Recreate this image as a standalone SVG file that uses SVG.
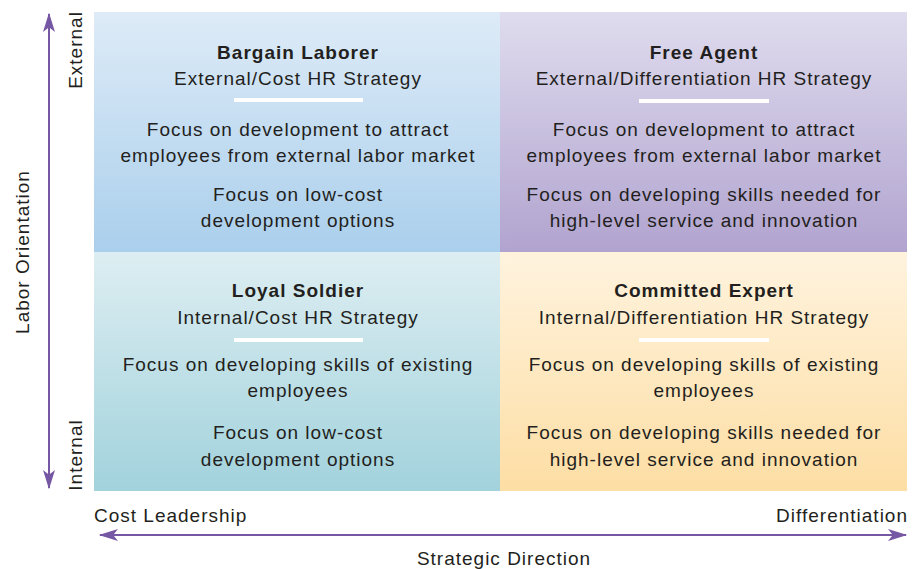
<svg xmlns="http://www.w3.org/2000/svg" width="918" height="569" viewBox="0 0 918 569">
<defs>
<linearGradient id="gTL" x1="0" y1="0" x2="0" y2="1"><stop offset="0" stop-color="#deebf7"/><stop offset="1" stop-color="#aacfec"/></linearGradient>
<linearGradient id="gTR" x1="0" y1="0" x2="0" y2="1"><stop offset="0" stop-color="#dfdcee"/><stop offset="1" stop-color="#b1a3cf"/></linearGradient>
<linearGradient id="gBL" x1="0" y1="0" x2="0" y2="1"><stop offset="0" stop-color="#ddeef2"/><stop offset="1" stop-color="#a2d2dc"/></linearGradient>
<linearGradient id="gBR" x1="0" y1="0" x2="0" y2="1"><stop offset="0" stop-color="#fff3de"/><stop offset="1" stop-color="#fddea4"/></linearGradient>
<marker id="ahv" viewBox="0 0 16 10" refX="15" refY="5" markerWidth="20" markerHeight="12" markerUnits="userSpaceOnUse" orient="auto-start-reverse">
<path d="M0,0 L16,5 L0,10 L4,5 Z" fill="#7657a4"/>
</marker>
</defs>
<style>
text{font-family:"Liberation Sans",Arial,sans-serif;font-size:19px;fill:#231f20;text-anchor:middle;letter-spacing:1px}
.t{font-weight:bold}
.bar{fill:#ffffff}
.ax{stroke:#7657a4;stroke-width:2;fill:none}
</style>
<g id="quadrant-bargain-laborer">
<rect x="94" y="12" width="406" height="240" fill="url(#gTL)"/>
<text class="t" x="298" y="59">Bargain Laborer</text>
<text x="298" y="85">External/Cost HR Strategy</text>
<rect class="bar" x="234" y="98" width="129" height="4"/>
<text x="298" y="136">Focus on development to attract</text>
<text x="298" y="162">employees from external labor market</text>
<text x="298" y="201">Focus on low-cost</text>
<text x="298" y="227">development options</text>
</g>
<g id="quadrant-free-agent">
<rect x="500" y="12" width="407" height="240" fill="url(#gTR)"/>
<text class="t" x="704" y="59">Free Agent</text>
<text x="704" y="85">External/Differentiation HR Strategy</text>
<rect class="bar" x="639" y="99" width="130" height="4"/>
<text x="704" y="136">Focus on development to attract</text>
<text x="704" y="162">employees from external labor market</text>
<text x="704" y="201">Focus on developing skills needed for</text>
<text x="704" y="227">high-level service and innovation</text>
</g>
<g id="quadrant-loyal-soldier">
<rect x="94" y="252" width="406" height="239" fill="url(#gBL)"/>
<text class="t" x="298" y="297">Loyal Soldier</text>
<text x="298" y="324">Internal/Cost HR Strategy</text>
<rect class="bar" x="234" y="338" width="129" height="4"/>
<text x="298" y="371">Focus on developing skills of existing</text>
<text x="298" y="397">employees</text>
<text x="298" y="439">Focus on low-cost</text>
<text x="298" y="466">development options</text>
</g>
<g id="quadrant-committed-expert">
<rect x="500" y="252" width="407" height="239" fill="url(#gBR)"/>
<text class="t" x="704" y="297">Committed Expert</text>
<text x="704" y="324">Internal/Differentiation HR Strategy</text>
<rect class="bar" x="639" y="338" width="130" height="4"/>
<text x="704" y="371">Focus on developing skills of existing</text>
<text x="704" y="397">employees</text>
<text x="704" y="439">Focus on developing skills needed for</text>
<text x="704" y="466">high-level service and innovation</text>
</g>
<g id="connectors">
<line class="ax" x1="49" y1="488" x2="49" y2="14" marker-start="url(#ahv)" marker-end="url(#ahv)"/>
<line class="ax" x1="100" y1="535" x2="906" y2="535" marker-start="url(#ahv)" marker-end="url(#ahv)"/>
</g>
<g id="axis-labels">
<text transform="translate(82,50) rotate(-90)">External</text>
<text transform="translate(82,455) rotate(-90)">Internal</text>
<text transform="translate(29,252) rotate(-90)">Labor Orientation</text>
<text x="94" y="522" style="text-anchor:start">Cost Leadership</text>
<text x="908" y="522" style="text-anchor:end">Differentiation</text>
<text x="504" y="565">Strategic Direction</text>
</g>
</svg>
